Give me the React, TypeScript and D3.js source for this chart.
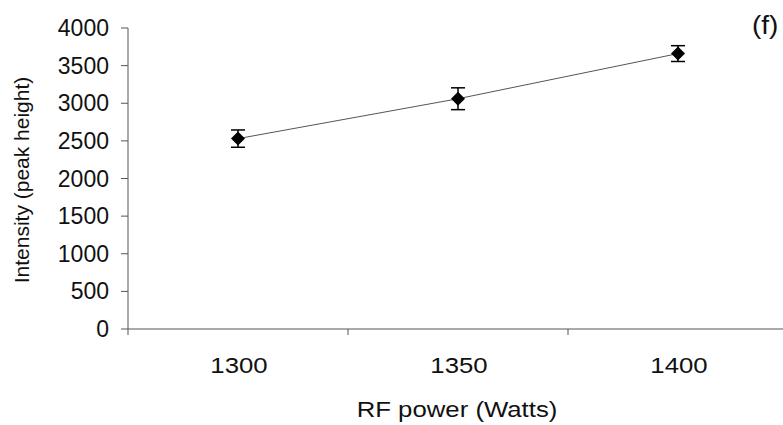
import React from "react";
import * as d3 from "d3";

const categories = ["1300", "1350", "1400"];
const values = [2530, 3060, 3660];
const errors = [115, 145, 105];
const yTicks = [0, 500, 1000, 1500, 2000, 2500, 3000, 3500, 4000];

export default function App() {
  const W = 783, H = 425;
  const left = 128, right = 788, top = 28, bottom = 329;
  const x = d3.scaleBand().domain(categories).range([left, right]).padding(0);
  const y = d3.scaleLinear().domain([0, 4000]).range([bottom, top]);
  const cx = (c: string) => (x(c) as number) + x.bandwidth() / 2;
  const line = d3.line<number>().x((_, i) => cx(categories[i])).y((d) => y(d));
  const font = "'Liberation Sans', Arial, sans-serif";
  const axisColor = "#555";
  const boundaries = categories.slice(1).map((c) => x(c) as number);
  const sx = 1.12;
  return (
    <svg width={W} height={H} style={{ position: "absolute", left: 0, top: 0, background: "#fff" }}>
      <rect width={W} height={H} fill="#fff" />
      <g fontFamily={font} fontSize={23} fill="#111">
        {yTicks.map((t) => (
          <g key={t}>
            <line x1={left - 7} x2={left} y1={y(t)} y2={y(t)} stroke={axisColor} strokeWidth={1} />
            <text x={left - 19} y={y(t)} dy="0.35em" textAnchor="end">{t}</text>
          </g>
        ))}
        <line x1={left} x2={left} y1={top} y2={bottom + 6} stroke={axisColor} strokeWidth={1} />
        <line x1={left} x2={W} y1={bottom} y2={bottom} stroke={axisColor} strokeWidth={1} />
        {boundaries.map((b, i) => (
          <line key={i} x1={b} x2={b} y1={bottom} y2={bottom + 6} stroke={axisColor} strokeWidth={1} />
        ))}
        {categories.map((c) => (
          <text key={c} transform={`translate(${cx(c) + 1},373) scale(${sx},1)`} textAnchor="middle">{c}</text>
        ))}
        <text transform={`translate(457,417) scale(${sx},1)`} textAnchor="middle">RF power (Watts)</text>
        <text transform={`translate(29,180) rotate(-90)`} textAnchor="middle" fontSize={21}>Intensity (peak height)</text>
        <text transform={`translate(752,34) scale(${sx},1)`} fontSize={25}>(f)</text>
      </g>
      <path d={line(values) || ""} fill="none" stroke="#555" strokeWidth={1} />
      {values.map((v, i) => {
        const px = cx(categories[i]);
        const e = errors[i];
        return (
          <g key={i}>
            <line x1={px} x2={px} y1={y(v + e)} y2={y(v - e)} stroke="#000" strokeWidth={1.5} />
            <line x1={px - 7} x2={px + 7} y1={y(v + e)} y2={y(v + e)} stroke="#000" strokeWidth={1.5} />
            <line x1={px - 7} x2={px + 7} y1={y(v - e)} y2={y(v - e)} stroke="#000" strokeWidth={1.5} />
            <path d={`M${px},${y(v) - 7}L${px + 7},${y(v)}L${px},${y(v) + 7}L${px - 7},${y(v)}Z`} fill="#000" />
          </g>
        );
      })}
    </svg>
  );
}
